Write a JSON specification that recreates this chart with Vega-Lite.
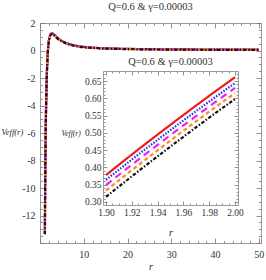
{
  "$schema": "https://vega.github.io/schema/vega-lite/v6.json",
  "width": 221,
  "height": 220,
  "autosize": "none",
  "padding": {"left": 40, "top": 23, "right": 5, "bottom": 37},
  "background": "white",
  "config": {
    "font": "Liberation Sans Narrow",
    "view": {"stroke": "#9a9a9a", "strokeWidth": 1},
    "axis": {
      "grid": false,
      "domain": false,
      "domainColor": "#9a9a9a",
      "domainWidth": 1,
      "tickColor": "#777777",
      "tickWidth": 0.8,
      "labelColor": "#333333",
      "labelFontSize": 10,
      "labelFont": "Liberation Sans Narrow",
      "titleFont": "Liberation Sans Narrow",
      "titleFontWeight": "normal",
      "titleFontStyle": "italic",
      "titleColor": "#222222",
      "titleFontSize": 10,
      "labelFlush": false,
      "labelOverlap": false,
      "labelBound": false
    }
  },
  "title": {
    "text": "Q=0.6 & γ=0.00003",
    "font": "Liberation Sans Narrow",
    "fontSize": 10.5,
    "fontWeight": "normal",
    "color": "#333333",
    "frame": "group",
    "anchor": "middle",
    "offset": 6
  },
  "datasets": {
    "main": [
      {"s":"a","r":1.12,"V":-13.3},{"s":"a","r":1.15,"V":-11.2},{"s":"a","r":1.2,"V":-8.9},{"s":"a","r":1.25,"V":-7.2},{"s":"a","r":1.3,"V":-5.9},{"s":"a","r":1.4,"V":-3.9},{"s":"a","r":1.5,"V":-2.5},{"s":"a","r":1.6,"V":-1.4},{"s":"a","r":1.7,"V":-0.6},{"s":"a","r":1.8,"V":-0.03},{"s":"a","r":1.9,"V":0.378},{"s":"a","r":2.0,"V":0.661},{"s":"a","r":2.2,"V":1.0},{"s":"a","r":2.4,"V":1.17},{"s":"a","r":2.6,"V":1.24},{"s":"a","r":2.8,"V":1.25},{"s":"a","r":3.0,"V":1.22},{"s":"a","r":3.5,"V":1.08},{"s":"a","r":4,"V":0.93},{"s":"a","r":5,"V":0.7},{"s":"a","r":6,"V":0.55},{"s":"a","r":7,"V":0.45},{"s":"a","r":8,"V":0.37},{"s":"a","r":10,"V":0.27},{"s":"a","r":12,"V":0.21},{"s":"a","r":15,"V":0.16},{"s":"a","r":20,"V":0.12},{"s":"a","r":25,"V":0.1},{"s":"a","r":30,"V":0.085},{"s":"a","r":40,"V":0.07},{"s":"a","r":50,"V":0.06},
      {"s":"b","r":1.12,"V":-13.315},{"s":"b","r":1.15,"V":-11.215},{"s":"b","r":1.2,"V":-8.915},{"s":"b","r":1.25,"V":-7.215},{"s":"b","r":1.3,"V":-5.915},{"s":"b","r":1.4,"V":-3.915},{"s":"b","r":1.5,"V":-2.515},{"s":"b","r":1.6,"V":-1.415},{"s":"b","r":1.7,"V":-0.615},{"s":"b","r":1.8,"V":-0.045},{"s":"b","r":1.9,"V":0.364},{"s":"b","r":2.0,"V":0.644},{"s":"b","r":2.2,"V":0.985},{"s":"b","r":2.4,"V":1.155},{"s":"b","r":2.6,"V":1.225},{"s":"b","r":2.8,"V":1.235},{"s":"b","r":3.0,"V":1.205},{"s":"b","r":3.5,"V":1.065},{"s":"b","r":4,"V":0.915},{"s":"b","r":5,"V":0.69},{"s":"b","r":6,"V":0.54},{"s":"b","r":7,"V":0.44},{"s":"b","r":8,"V":0.36},{"s":"b","r":10,"V":0.26},{"s":"b","r":12,"V":0.205},{"s":"b","r":15,"V":0.155},{"s":"b","r":20,"V":0.115},{"s":"b","r":25,"V":0.095},{"s":"b","r":30,"V":0.08},{"s":"b","r":40,"V":0.065},{"s":"b","r":50,"V":0.055},
      {"s":"c","r":1.12,"V":-13.33},{"s":"c","r":1.15,"V":-11.23},{"s":"c","r":1.2,"V":-8.93},{"s":"c","r":1.25,"V":-7.23},{"s":"c","r":1.3,"V":-5.93},{"s":"c","r":1.4,"V":-3.93},{"s":"c","r":1.5,"V":-2.53},{"s":"c","r":1.6,"V":-1.43},{"s":"c","r":1.7,"V":-0.63},{"s":"c","r":1.8,"V":-0.06},{"s":"c","r":1.9,"V":0.349},{"s":"c","r":2.0,"V":0.63},{"s":"c","r":2.2,"V":0.97},{"s":"c","r":2.4,"V":1.14},{"s":"c","r":2.6,"V":1.21},{"s":"c","r":2.8,"V":1.22},{"s":"c","r":3.0,"V":1.19},{"s":"c","r":3.5,"V":1.05},{"s":"c","r":4,"V":0.9},{"s":"c","r":5,"V":0.68},{"s":"c","r":6,"V":0.53},{"s":"c","r":7,"V":0.43},{"s":"c","r":8,"V":0.35},{"s":"c","r":10,"V":0.25},{"s":"c","r":12,"V":0.2},{"s":"c","r":15,"V":0.15},{"s":"c","r":20,"V":0.11},{"s":"c","r":25,"V":0.09},{"s":"c","r":30,"V":0.075},{"s":"c","r":40,"V":0.06},{"s":"c","r":50,"V":0.05},
      {"s":"d","r":1.12,"V":-13.345},{"s":"d","r":1.15,"V":-11.245},{"s":"d","r":1.2,"V":-8.945},{"s":"d","r":1.25,"V":-7.245},{"s":"d","r":1.3,"V":-5.945},{"s":"d","r":1.4,"V":-3.945},{"s":"d","r":1.5,"V":-2.545},{"s":"d","r":1.6,"V":-1.445},{"s":"d","r":1.7,"V":-0.645},{"s":"d","r":1.8,"V":-0.075},{"s":"d","r":1.9,"V":0.333},{"s":"d","r":2.0,"V":0.615},{"s":"d","r":2.2,"V":0.955},{"s":"d","r":2.4,"V":1.125},{"s":"d","r":2.6,"V":1.195},{"s":"d","r":2.8,"V":1.205},{"s":"d","r":3.0,"V":1.175},{"s":"d","r":3.5,"V":1.035},{"s":"d","r":4,"V":0.885},{"s":"d","r":5,"V":0.67},{"s":"d","r":6,"V":0.52},{"s":"d","r":7,"V":0.42},{"s":"d","r":8,"V":0.34},{"s":"d","r":10,"V":0.24},{"s":"d","r":12,"V":0.195},{"s":"d","r":15,"V":0.145},{"s":"d","r":20,"V":0.105},{"s":"d","r":25,"V":0.085},{"s":"d","r":30,"V":0.07},{"s":"d","r":40,"V":0.055},{"s":"d","r":50,"V":0.045},
      {"s":"e","r":1.12,"V":-13.36},{"s":"e","r":1.15,"V":-11.26},{"s":"e","r":1.2,"V":-8.96},{"s":"e","r":1.25,"V":-7.26},{"s":"e","r":1.3,"V":-5.96},{"s":"e","r":1.4,"V":-3.96},{"s":"e","r":1.5,"V":-2.56},{"s":"e","r":1.6,"V":-1.46},{"s":"e","r":1.7,"V":-0.66},{"s":"e","r":1.8,"V":-0.09},{"s":"e","r":1.9,"V":0.315},{"s":"e","r":2.0,"V":0.598},{"s":"e","r":2.2,"V":0.94},{"s":"e","r":2.4,"V":1.11},{"s":"e","r":2.6,"V":1.18},{"s":"e","r":2.8,"V":1.19},{"s":"e","r":3.0,"V":1.16},{"s":"e","r":3.5,"V":1.02},{"s":"e","r":4,"V":0.87},{"s":"e","r":5,"V":0.66},{"s":"e","r":6,"V":0.51},{"s":"e","r":7,"V":0.41},{"s":"e","r":8,"V":0.33},{"s":"e","r":10,"V":0.23},{"s":"e","r":12,"V":0.19},{"s":"e","r":15,"V":0.14},{"s":"e","r":20,"V":0.1},{"s":"e","r":25,"V":0.08},{"s":"e","r":30,"V":0.065},{"s":"e","r":40,"V":0.05},{"s":"e","r":50,"V":0.04}
    ],
    "inset": [
      {"s":"a","r":1.9,"V":0.378},{"s":"a","r":1.92,"V":0.4372},{"s":"a","r":1.94,"V":0.495},{"s":"a","r":1.96,"V":0.5516},{"s":"a","r":1.98,"V":0.607},{"s":"a","r":2.0,"V":0.661},
      {"s":"b","r":1.9,"V":0.364},{"s":"b","r":1.92,"V":0.4226},{"s":"b","r":1.94,"V":0.4798},{"s":"b","r":1.96,"V":0.5358},{"s":"b","r":1.98,"V":0.5906},{"s":"b","r":2.0,"V":0.644},
      {"s":"c","r":1.9,"V":0.349},{"s":"c","r":1.92,"V":0.4078},{"s":"c","r":1.94,"V":0.4652},{"s":"c","r":1.96,"V":0.5214},{"s":"c","r":1.98,"V":0.5764},{"s":"c","r":2.0,"V":0.63},
      {"s":"d","r":1.9,"V":0.333},{"s":"d","r":1.92,"V":0.392},{"s":"d","r":1.94,"V":0.4496},{"s":"d","r":1.96,"V":0.506},{"s":"d","r":1.98,"V":0.5612},{"s":"d","r":2.0,"V":0.615},
      {"s":"e","r":1.9,"V":0.315},{"s":"e","r":1.92,"V":0.3742},{"s":"e","r":1.94,"V":0.432},{"s":"e","r":1.96,"V":0.4886},{"s":"e","r":1.98,"V":0.544},{"s":"e","r":2.0,"V":0.598}
    ]
  },
  "layer": [
    {
      "data": {"name": "main"},
      "mark": {"type": "line", "strokeWidth": 2.2, "interpolate": "monotone"},
      "encoding": {
        "x": {
          "field": "r", "type": "quantitative",
          "scale": {"domain": [0, 50.5], "nice": false, "zero": false},
          "axis": {
            "orient": "bottom",
            "values": [0,2,4,6,8,10,12,14,16,18,20,22,24,26,28,30,32,34,36,38,40,42,44,46,48,50],
            "labelExpr": "datum.value % 10 === 0 && datum.value > 0 ? toString(datum.value) : ''",
            "tickSize": {"condition": {"test": "datum.value % 10 === 0", "value": -5}, "value": -2.5},
            "labelPadding": 11,
            "title": "r",
            "titlePadding": 0
          }
        },
        "y": {
          "field": "V", "type": "quantitative",
          "scale": {"domain": [-14, 2], "nice": false, "zero": false},
          "axis": {
            "orient": "left",
            "values": [-14,-13.5,-13,-12.5,-12,-11.5,-11,-10.5,-10,-9.5,-9,-8.5,-8,-7.5,-7,-6.5,-6,-5.5,-5,-4.5,-4,-3.5,-3,-2.5,-2,-1.5,-1,-0.5,0,0.5,1,1.5,2],
            "labelExpr": "datum.value % 2 === 0 && datum.value > -13 ? toString(datum.value) : ''",
            "tickSize": {"condition": {"test": "datum.value % 2 === 0", "value": -5}, "value": -2.5},
            "labelPadding": 10,
            "title": "Veff(r)",
            "titleAngle": 0,
            "titleAlign": "left",
            "titleBaseline": "middle",
            "titleX": -39,
            "titleY": 108,
            "titleFontSize": 8.5
          }
        },
        "color": {
          "field": "s", "type": "nominal",
          "scale": {"domain": ["a","b","c","d","e"], "range": ["#ee1c1c", "#1c2cf0", "#f020f0", "#ff8a1c", "#111111"]},
          "legend": null
        },
        "strokeDash": {
          "field": "s", "type": "nominal",
          "scale": {"domain": ["a","b","c","d","e"], "range": [[1,0],[1.5,1.5],[7,5],[4,3],[3.5,1.8,1.5,1.8]]},
          "legend": null
        }
      }
    },
    {
      "data": {"values": [{}]},
      "mark": {"type": "point", "opacity": 0},
      "encoding": {
        "x": {
          "datum": 25, "type": "quantitative",
          "scale": {"domain": [0, 50.5], "nice": false, "zero": false},
          "axis": {
            "orient": "top",
            "values": [0,2,4,6,8,10,12,14,16,18,20,22,24,26,28,30,32,34,36,38,40,42,44,46,48,50],
            "labels": false,
            "tickSize": {"condition": {"test": "datum.value % 10 === 0", "value": -5}, "value": -2.5},
            "title": null
          }
        },
        "y": {
          "datum": 0, "type": "quantitative",
          "scale": {"domain": [-14, 2], "nice": false, "zero": false},
          "axis": {
            "orient": "right",
            "values": [-14,-13.5,-13,-12.5,-12,-11.5,-11,-10.5,-10,-9.5,-9,-8.5,-8,-7.5,-7,-6.5,-6,-5.5,-5,-4.5,-4,-3.5,-3,-2.5,-2,-1.5,-1,-0.5,0,0.5,1,1.5,2],
            "labels": false,
            "tickSize": {"condition": {"test": "datum.value % 2 === 0", "value": -5}, "value": -2.5},
            "title": null
          }
        }
      }
    },
    {
      "data": {"name": "inset"},
      "mark": {"type": "line", "strokeWidth": 2.2, "interpolate": "monotone"},
      "encoding": {
        "x": {
          "field": "r", "type": "quantitative",
          "scale": {"domain": [1.89767, 2.00233], "range": [63, 198], "nice": false, "zero": false},
          "axis": {
            "orient": "bottom",
            "offset": -38,
            "domain": true,
            "values": [1.9,1.905,1.91,1.915,1.92,1.925,1.93,1.935,1.94,1.945,1.95,1.955,1.96,1.965,1.97,1.975,1.98,1.985,1.99,1.995,2.0],
            "labelExpr": "abs(datum.value*50 - round(datum.value*50)) < 0.000001 ? format(datum.value, '.2f') : ''",
            "tickSize": {"condition": {"test": "abs(datum.value*50 - round(datum.value*50)) < 0.000001", "value": -4}, "value": -2},
            "labelPadding": 6,
            "labelFontSize": 9.5,
            "title": "r",
            "titlePadding": 9
          }
        },
        "y": {
          "field": "V", "type": "quantitative",
          "scale": {"domain": [0.2913, 0.679], "range": [182, 48], "nice": false, "zero": false},
          "axis": {
            "orient": "left",
            "offset": -63,
            "domain": true,
            "values": [0.3,0.31,0.32,0.33,0.34,0.35,0.36,0.37,0.38,0.39,0.4,0.41,0.42,0.43,0.44,0.45,0.46,0.47,0.48,0.49,0.5,0.51,0.52,0.53,0.54,0.55,0.56,0.57,0.58,0.59,0.6,0.61,0.62,0.63,0.64,0.65,0.66,0.67],
            "labelExpr": "abs(datum.value*20 - round(datum.value*20)) < 0.000001 ? format(datum.value, '.2f') : ''",
            "tickSize": {"condition": {"test": "abs(datum.value*20 - round(datum.value*20)) < 0.000001", "value": -4}, "value": -2},
            "labelPadding": 6,
            "labelFontSize": 9.5,
            "title": "Veff(r)",
            "titleAngle": 0,
            "titleAlign": "left",
            "titleBaseline": "middle",
            "titleX": -42,
            "titleY": 110,
            "titleFontSize": 7.5
          }
        },
        "color": {"field": "s", "type": "nominal", "legend": null},
        "strokeDash": {"field": "s", "type": "nominal", "legend": null}
      }
    },
    {
      "data": {"values": [{}]},
      "mark": {"type": "text", "text": "Q=0.6 & γ=0.00003", "font": "Liberation Sans Narrow", "fontSize": 10.5, "color": "#333333", "baseline": "middle", "align": "center"},
      "encoding": {
        "x": {
          "datum": 1.95, "type": "quantitative",
          "scale": {"domain": [1.89767, 2.00233], "range": [63, 198], "nice": false, "zero": false},
          "axis": {
            "orient": "top",
            "offset": -48,
            "domain": true,
            "values": [1.9,1.905,1.91,1.915,1.92,1.925,1.93,1.935,1.94,1.945,1.95,1.955,1.96,1.965,1.97,1.975,1.98,1.985,1.99,1.995,2.0],
            "labels": false,
            "tickSize": {"condition": {"test": "abs(datum.value*50 - round(datum.value*50)) < 0.000001", "value": -4}, "value": -2},
            "title": null
          }
        },
        "y": {
          "datum": 0.705, "type": "quantitative",
          "scale": {"domain": [0.2913, 0.679], "range": [182, 48], "nice": false, "zero": false},
          "axis": {
            "orient": "right",
            "offset": -23,
            "domain": true,
            "values": [0.3,0.31,0.32,0.33,0.34,0.35,0.36,0.37,0.38,0.39,0.4,0.41,0.42,0.43,0.44,0.45,0.46,0.47,0.48,0.49,0.5,0.51,0.52,0.53,0.54,0.55,0.56,0.57,0.58,0.59,0.6,0.61,0.62,0.63,0.64,0.65,0.66,0.67],
            "labels": false,
            "tickSize": {"condition": {"test": "abs(datum.value*20 - round(datum.value*20)) < 0.000001", "value": -4}, "value": -2},
            "title": null
          }
        }
      }
    }
  ],
  "resolve": {
    "scale": {"x": "independent", "y": "independent"},
    "axis": {"x": "independent", "y": "independent"}
  }
}
